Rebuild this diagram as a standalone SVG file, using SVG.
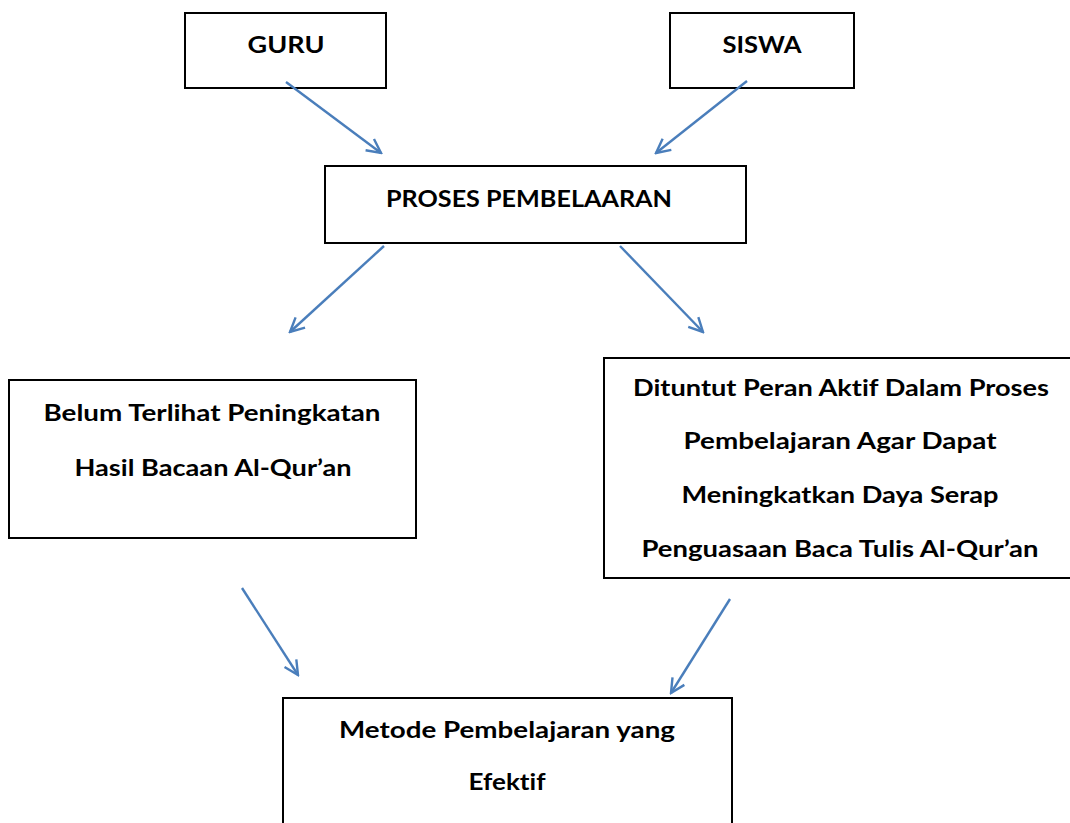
<svg xmlns="http://www.w3.org/2000/svg" width="1070" height="823" viewBox="0 0 1070 823">
<style>
.box{fill:#fff;stroke:#000;stroke-width:2}
.t{font-family:Lato,"Open Sans","Liberation Sans",sans-serif;font-weight:bold;font-size:22px;fill:#000;text-anchor:middle;font-variant-ligatures:none;font-feature-settings:"liga" 0,"dlig" 0}
.c{fill:none;stroke:#4a7ebb;stroke-width:2.4;marker-end:url(#ah)}
</style>
<defs>
<marker id="ah" viewBox="0 0 20 20" refX="18" refY="10" markerWidth="20" markerHeight="20" markerUnits="userSpaceOnUse" orient="auto">
<path d="M4,3 L18,10 L4,17" fill="none" stroke="#4a7ebb" stroke-width="2.4"/>
</marker>
</defs>
<rect width="1070" height="823" fill="#fff"/>
<g id="guru"><rect class="box" x="185" y="13" width="201" height="75"/><text class="t" x="286" y="53" textLength="77" lengthAdjust="spacingAndGlyphs">GURU</text></g>
<g id="siswa"><rect class="box" x="670" y="13" width="184" height="75"/><text class="t" x="762" y="53" textLength="79" lengthAdjust="spacingAndGlyphs">SISWA</text></g>
<g id="proses"><rect class="box" x="325" y="166" width="421" height="77"/><text class="t" x="529" y="207" textLength="286" lengthAdjust="spacingAndGlyphs">PROSES PEMBELAARAN</text></g>
<g id="belum"><rect class="box" x="9" y="380" width="407" height="158"/>
<text class="t" x="212" y="421" textLength="337" lengthAdjust="spacingAndGlyphs">Belum Terlihat Peningkatan</text>
<text class="t" x="213" y="476" textLength="277" lengthAdjust="spacingAndGlyphs">Hasil Bacaan Al-Qur’an</text></g>
<g id="dituntut"><rect class="box" x="604" y="358" width="467" height="220"/>
<text class="t" x="841" y="396" textLength="416" lengthAdjust="spacingAndGlyphs">Dituntut Peran Aktif Dalam Proses</text>
<text class="t" x="840" y="449" textLength="313" lengthAdjust="spacingAndGlyphs">Pembelajaran Agar Dapat</text>
<text class="t" x="840" y="503" textLength="317" lengthAdjust="spacingAndGlyphs">Meningkatkan Daya Serap</text>
<text class="t" x="840" y="557" textLength="397" lengthAdjust="spacingAndGlyphs">Penguasaan Baca Tulis Al-Qur’an</text></g>
<g id="metode"><rect class="box" x="283" y="698" width="449" height="140"/>
<text class="t" x="507" y="738" textLength="336" lengthAdjust="spacingAndGlyphs">Metode Pembelajaran yang</text>
<text class="t" x="507" y="790" textLength="77" lengthAdjust="spacingAndGlyphs">Efektif</text></g>
<g id="connectors">
<line class="c" x1="286" y1="82" x2="381" y2="153"/>
<line class="c" x1="747" y1="81" x2="656" y2="153"/>
<line class="c" x1="384" y1="246" x2="290" y2="332"/>
<line class="c" x1="620" y1="246" x2="703" y2="332"/>
<line class="c" x1="242" y1="588" x2="298" y2="675"/>
<line class="c" x1="730" y1="599" x2="671" y2="693"/>
</g>
</svg>
